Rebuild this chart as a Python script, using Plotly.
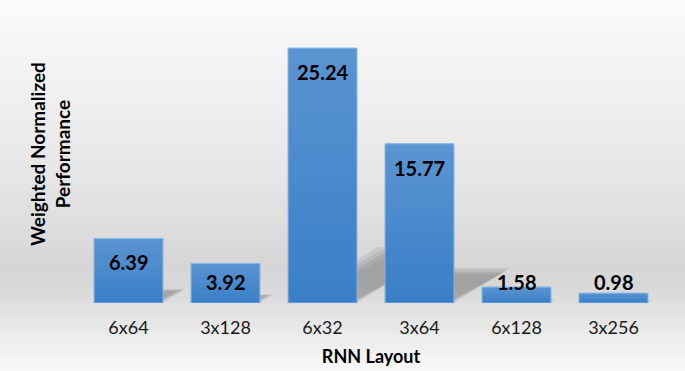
import plotly.graph_objects as go

# ---- data ----
categories = ["6x64", "3x128", "6x32", "3x64", "6x128", "3x256"]
values = [6.39, 3.92, 25.24, 15.77, 1.58, 0.98]
x_title = "RNN Layout"
y_title = "Weighted Normalized<br>Performance"

# ---- layout constants ----
W, H = 685, 371
M_L, M_R, M_T, M_B = 80, 23, 20, 68
Y_MAX = 28.02
BAR_W = 0.71
plot_h = H - M_T - M_B
plot_w = W - M_L - M_R
scale = plot_h / Y_MAX  # px per unit
FONT = "Lato"

xs = list(range(len(categories)))

fig = go.Figure()

fig.add_trace(go.Bar(
    x=xs, y=values, width=BAR_W,
    marker=dict(color="#3a7fc8", line=dict(color="#7db3e6", width=1)),
    showlegend=False, hoverinfo="skip",
))

# value labels
annotations = []
for i, v in zip(xs, values):
    if v * scale < 45:
        y, ys = 0, 21.5
    else:
        y, ys = v, -24
    annotations.append(dict(
        x=i, y=y, xref="x", yref="y", yshift=ys, text=f"{v:.2f}",
        showarrow=False, xanchor="center", yanchor="middle",
        font=dict(family=FONT, size=20, color="#000000", weight="bold"),
    ))

# y-axis title
annotations.append(dict(
    x=0, xref="paper", xshift=-30, y=(H - M_B - 154) / plot_h, yref="paper",
    text=y_title, textangle=-90, showarrow=False,
    xanchor="center", yanchor="middle", align="center",
    font=dict(family=FONT, size=19, color="#000000", weight="bold"),
))

# background vertical gradient as horizontal bands
stops = [(0, 253), (8, 250), (60, 244), (120, 237), (180, 229), (230, 221),
         (262, 214), (282, 215), (300, 221), (330, 233), (371, 248)]

def gray_at(py):
    for (a, ga), (b, gb) in zip(stops[:-1], stops[1:]):
        if a <= py <= b:
            t = (py - a) / (b - a)
            return ga + (gb - ga) * t
    return stops[-1][1]

shapes = []
step = 3
for py in range(0, H, step):
    g = int(round(gray_at(py + step / 2)))
    y0 = (H - M_B - (py + step)) / plot_h
    y1 = (H - M_B - py) / plot_h
    shapes.append(dict(
        type="rect", xref="paper", yref="paper",
        x0=-M_L / plot_w - 0.01, x1=(W - M_L) / plot_w + 0.01,
        y0=y0 - 0.002, y1=y1 + 0.002,
        fillcolor=f"rgb({g},{g},{g})", line=dict(width=0), layer="below",
    ))

# perspective-like shadows behind bars (derived from values)
cat_px = plot_w / len(categories)
for i, v in zip(xs, values):
    hs = 0.22 * v
    dx = 1.6 * hs * scale / cat_px
    xl, xr = i - BAR_W / 2, i + BAR_W / 2
    for shrink, alpha in [(0.0, 0.07), (0.03, 0.07), (0.06, 0.07), (0.09, 0.05)]:
        sx = shrink
        sy = shrink * 2 * hs
        path = (f"M {xl + sx},0 L {xr - sx},0 L {xr + dx - sx},{hs - sy} "
                f"L {xl + dx + sx},{hs - sy} Z")
        shapes.append(dict(
            type="path", xref="x", yref="y", path=path,
            fillcolor=f"rgba(0,0,0,{alpha})", line=dict(width=0), layer="below",
        ))

# vertical gradient sheen on each bar (lighter toward the top)
N_BANDS = 16
for i, v in zip(xs, values):
    for k in range(N_BANDS):
        a = 0.17 * (k + 0.5) / N_BANDS
        shapes.append(dict(
            type="rect", xref="x", yref="y",
            x0=i - BAR_W / 2 + 0.004, x1=i + BAR_W / 2 - 0.004,
            y0=v * k / N_BANDS, y1=v * (k + 1) / N_BANDS,
            fillcolor=f"rgba(255,255,255,{a:.3f})", line=dict(width=0),
            layer="above",
        ))

fig.update_layout(
    width=W, height=H,
    margin=dict(l=M_L, r=M_R, t=M_T, b=M_B, autoexpand=False),
    paper_bgcolor="#eeeeee", plot_bgcolor="rgba(0,0,0,0)",
    shapes=shapes, annotations=annotations,
    xaxis=dict(
        range=[-0.5, len(categories) - 0.5], tickvals=xs, ticktext=categories,
        showgrid=False, zeroline=False, showline=False, ticks="",
        automargin=False,
        ticklabelstandoff=12,
        tickfont=dict(family=FONT, size=18, color="#1a1a1a"),
        title=dict(text=x_title, standoff=13,
                   font=dict(family=FONT, size=18, color="#000000", weight="bold")),
    ),
    yaxis=dict(range=[0, Y_MAX], visible=False, showgrid=False, zeroline=False,
               automargin=False),
)

fig.write_html(
    "out.html",
    config={"displayModeBar": False, "staticPlot": True},
    post_script="document.body.style.margin='0';document.body.style.overflow='hidden';",
)
